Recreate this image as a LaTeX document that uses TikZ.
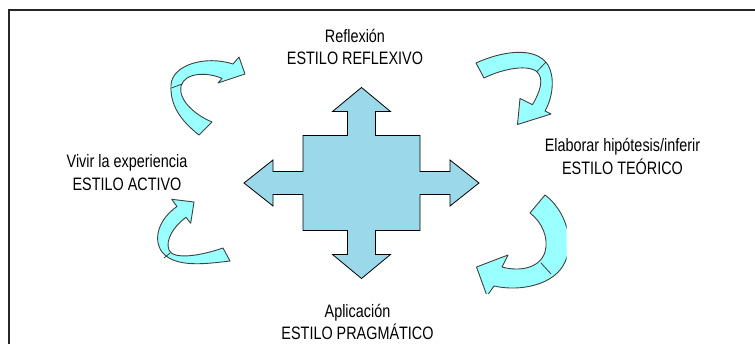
\documentclass[tikz,border=0pt]{standalone}
\usepackage{fontspec}
\setmainfont{Liberation Sans}[FakeStretch=0.8]
\definecolor{crossblue}{RGB}{155,217,234}
\definecolor{turnfill}{RGB}{153,255,255}

\begin{document}
\begin{tikzpicture}
		[x=1pt,y=-1pt,
		label node/.style={align=center,font=\fontsize{18}{22.5}\selectfont,inner sep=0pt,anchor=base},
		turn arrow/.style={draw=black!75,fill=turnfill,line width=0.9pt,line join=round},
		fold line/.style={draw=black!75,line width=0.8pt},
		cross arrow/.style={draw=black,fill=crossblue,line width=0.8pt}]
		\useasboundingbox (0,0) rectangle (755,344);
		\draw[line width=1.2pt,black!85] (9,10) rectangle (780,370);
		
		% central cross
		\begin{scope}[shift={(361.5,183)}]
		\draw[cross arrow] (0,-95.5) -- (29,-71.5) -- (14,-71.5) -- (14,-47.5) -- (58.5,-47.5) -- (58.5,-11.5)
			-- (88.5,-11.5) -- (88.5,-23) -- (117.5,0) -- (88.5,23) -- (88.5,11.5) -- (58.5,11.5)
			-- (58.5,47.5) -- (14,47.5) -- (14,71.5) -- (29,71.5) -- (0,95.5) -- (-29,71.5)
			-- (-14,71.5) -- (-14,47.5) -- (-58.5,47.5) -- (-58.5,11.5) -- (-88.5,11.5) -- (-88.5,23)
			-- (-117.5,0) -- (-88.5,-23) -- (-88.5,-11.5) -- (-58.5,-11.5) -- (-58.5,-47.5) -- (-14,-47.5)
			-- (-14,-71.5) -- (-29,-71.5) -- cycle;
		\end{scope}
		
		% curved arrows
		\draw[turn arrow] (199,135) .. controls (180,120) and (170,105) .. (171,85)
			.. controls (172,65) and (205,55) .. (233,64) -- (239,57) -- (245,74) -- (218,83) -- (222,78.5)
			.. controls (208,72) and (185,72) .. (181,86) .. controls (178,100) and (195,115) .. (212,122) -- cycle;
		\draw[fold line] (171.5,88) -- (182,84);
		
		\draw[turn arrow] (230,261) .. controls (205,264) and (175,268) .. (162,252)
			.. controls (152,238) and (160,218) .. (177,206.5) -- (171.7,199.3) -- (194,202) -- (190.7,223.3) -- (186,217.3)
			.. controls (174,226) and (165,240) .. (169,250) .. controls (173,260) and (200,256) .. (223,248) -- cycle;
		\draw[fold line] (170,253) -- (164,258);
		
		\draw[turn arrow] (476,63) .. controls (500,52) and (535,45) .. (548,65)
			.. controls (555,77) and (553,97) .. (545,111) -- (551,114) -- (517.5,124.5) -- (520,98.5) -- (532.4,104.7)
			.. controls (540,92) and (545,78) .. (536,71) .. controls (525,64) and (500,70) .. (484,78) -- cycle;
		\draw[fold line] (546,62) -- (537,71.5);
		
		\begin{scope}
		\clip (0,0) rectangle (566.7,293.3);
		\draw[turn arrow] (545,195) .. controls (565,210) and (575,240) .. (565,262)
			.. controls (555,285) and (520,292) .. (494,286) -- (487,296) -- (476.5,267) -- (508,255) -- (502,267)
			.. controls (520,272) and (540,268) .. (545,252) .. controls (549,238) and (542,222) .. (530,213) -- cycle;
		\draw[fold line] (541,263) -- (551,274);
		\end{scope}
		
		% labels
		\node[label node] (reflexion) at (355,65) {Reflexión\\ESTILO REFLEXIVO};
		\node[label node] (activo) at (127,190.5) {Vivir la experiencia\\ESTILO ACTIVO};
		\node[label node] (teorico) at (622.5,174.5) {Elaborar hipótesis/inferir\\ESTILO TEÓRICO};
		\node[label node] (pragmatico) at (357.5,340) {Aplicación\\ESTILO PRAGMÁTICO};
\end{tikzpicture}
\end{document}
